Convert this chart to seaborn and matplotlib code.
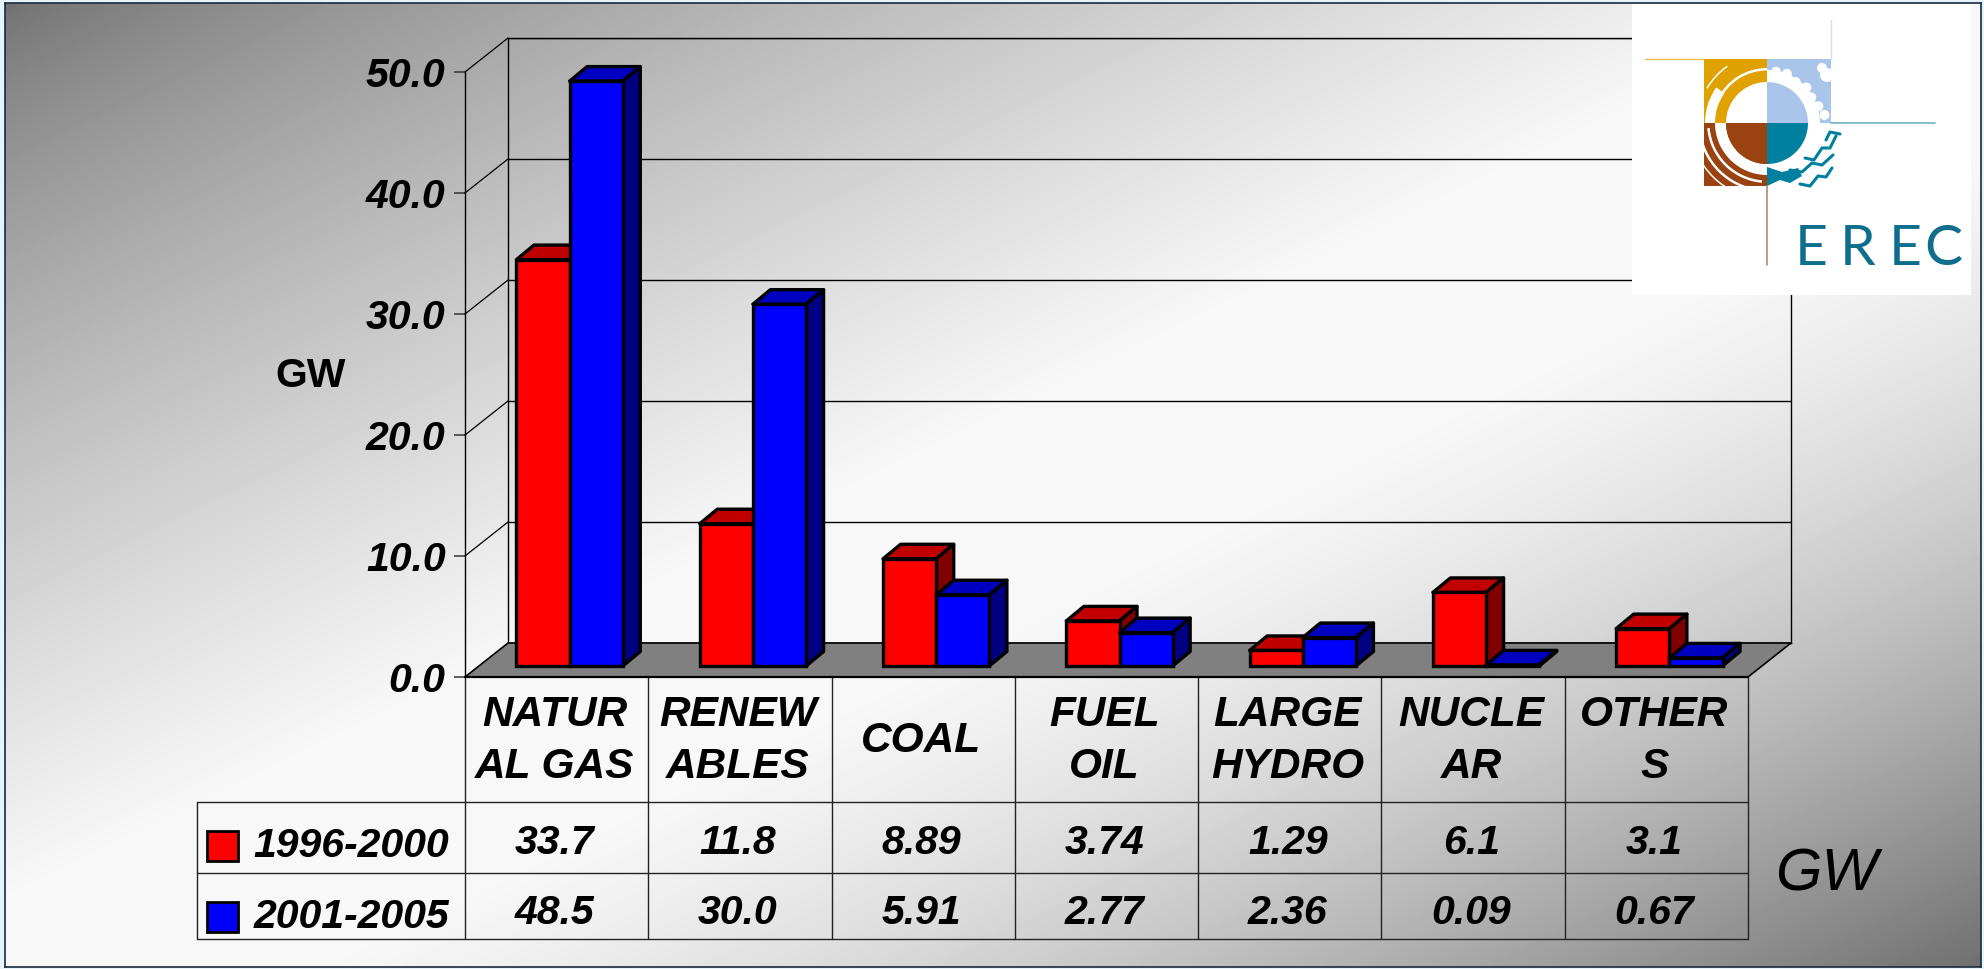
import matplotlib
matplotlib.use("Agg")
import matplotlib.pyplot as plt
from matplotlib.patches import Circle, Polygon, Rectangle, Wedge
import numpy as np
import pandas as pd
import seaborn as sns

categories = ["NATURAL GAS", "RENEWABLES", "COAL", "FUEL OIL", "LARGE HYDRO", "NUCLEAR", "OTHERS"]
category_labels = ["NATUR\nAL GAS", "RENEW\nABLES", "COAL", "FUEL\nOIL", "LARGE\nHYDRO", "NUCLE\nAR", "OTHER\nS"]
series_names = ["1996-2000", "2001-2005"]
values_1996 = [33.7, 11.8, 8.89, 3.74, 1.29, 6.1, 3.1]
values_2001 = [48.5, 30.0, 5.91, 2.77, 2.36, 0.09, 0.67]
labels_1996 = ["33.7", "11.8", "8.89", "3.74", "1.29", "6.1", "3.1"]
labels_2001 = ["48.5", "30.0", "5.91", "2.77", "2.36", "0.09", "0.67"]
y_ticks = [0, 10, 20, 30, 40, 50]

W, H = 1984, 969

sns.set_style("white")
plt.rcParams["font.family"] = ["Liberation Sans", "DejaVu Sans"]
plt.rcParams["font.weight"] = "bold"
plt.rcParams["font.style"] = "italic"
plt.rcParams["text.color"] = "black"

# 3D frame of the old chart, in pixels
FX0, FX1, FY0, FY50 = 465, 1748, 677, 72      # front plane
DX, DY = 43, -34                              # wall depth
BAR_OFF = (13, -11)                           # bars sit a bit back on the floor
BAR_DX, BAR_DY = 17.5, -14.5                  # bar depth
LINE = "#000000"


def px_axes(fig, x0, x1, y_bottom, y_top, **kw):
    return fig.add_axes([x0 / W, 1 - y_bottom / H, (x1 - x0) / W, (y_bottom - y_top) / H], **kw)


fig = plt.figure(figsize=(W / 100, H / 100), dpi=100, facecolor="#E6F3FB")

# slide background
bg = px_axes(fig, 5, 1981, 967, 3, zorder=0)
xx, yy = np.meshgrid(np.linspace(0, 1, 400), np.linspace(0, 1, 200))
t = xx + yy
shade = np.where(t < 1, 0.44 + 0.56 * t ** 0.75, 1 - 0.56 * np.abs(t - 1) ** 1.6)
bg.imshow(np.minimum(shade, 0.97), cmap="gray", vmin=0, vmax=1, aspect="auto", extent=(0, 1, 1, 0),
          interpolation="bilinear")
bg.set_xticks([])
bg.set_yticks([])
for sp in bg.spines.values():
    sp.set_linewidth(1.2)
    sp.set_color("#1a2a3a")

# back wall with its grid
back = px_axes(fig, FX0 + DX, FX1 + DX, FY0 + DY, FY50 + DY, zorder=1)
back.patch.set_alpha(0)
back.set_xlim(0, 1)
back.set_ylim(0, 50)
back.set_xticks([])
back.set_yticks(y_ticks)
back.set_yticklabels([])
back.tick_params(left=False)
back.grid(True, axis="y", color=LINE, linewidth=1.0)
for sp in back.spines.values():
    sp.set_linewidth(1.0)
    sp.set_color(LINE)

# front plane: value axis
front = px_axes(fig, FX0, FX1, FY0, FY50, zorder=2)
front.patch.set_alpha(0)
front.set_xlim(0, 1)
front.set_ylim(0, 50)
front.set_xticks([])
front.set_yticks(y_ticks)
front.set_yticklabels([f"{v:.1f}" for v in y_ticks], fontsize=29.5)
front.tick_params(axis="y", left=True, length=8, width=1.1, color="#333333", labelcolor="black", pad=6)
sns.despine(ax=front, right=True, top=True, bottom=True)
front.spines["left"].set_linewidth(1.0)
front.spines["left"].set_color(LINE)

# pixel overlay for floor, wall edges, table and logo
ov = fig.add_axes([0, 0, 1, 1], zorder=3)
ov.set_xlim(0, W)
ov.set_ylim(H, 0)
ov.axis("off")
ov.patch.set_alpha(0)

ov.add_patch(Polygon([(FX0, FY0), (FX1, FY0), (FX1 + DX, FY0 + DY), (FX0 + DX, FY0 + DY)],
                     closed=True, facecolor="#808080", edgecolor=LINE, linewidth=1.2))
for v in y_ticks[1:]:
    y = FY0 + (FY50 - FY0) * v / 50
    ov.plot([FX0, FX0 + DX], [y, y + DY], color=LINE, lw=0.9)

# table
col_w = (FX1 - FX0) / len(categories)
col_edges = [FX0 + i * col_w for i in range(len(categories) + 1)]
ROWS = [802, 873, 939]
TABLE_L = 197
for x in col_edges:
    ov.plot([x, x], [FY0, ROWS[-1]], color="#222222", lw=1.0)
ov.plot([FX0, FX1], [FY0, FY0], color=LINE, lw=1.6)
ov.plot([TABLE_L, TABLE_L], [ROWS[0], ROWS[-1]], color="#222222", lw=1.0)
for y in ROWS:
    ov.plot([TABLE_L, FX1], [y, y], color="#222222", lw=1.0)

for i, lab in enumerate(category_labels):
    cx = (col_edges[i] + col_edges[i + 1]) / 2 - 2
    ov.text(cx, 741, lab, ha="center", va="center", fontsize=30.5, linespacing=1.4)
    ov.text(cx, 843, labels_1996[i], ha="center", va="center", fontsize=29.5)
    ov.text(cx, 913, labels_2001[i], ha="center", va="center", fontsize=29.5)

for name, color, yc in zip(series_names, ["#FF0000", "#0000FF"], [846, 917]):
    ov.add_patch(Rectangle((207, yc - 15), 31, 30, facecolor=color, edgecolor=LINE, linewidth=2))
    ov.text(449, yc, name, ha="right", va="center", fontsize=29.5)

ov.text(311, 376, "GW", ha="center", va="center", fontsize=29.5, style="normal")
ov.text(1826, 875, "GW", ha="center", va="center", fontsize=43, weight="normal")

# logo
ov.add_patch(Rectangle((1632, 4), 339, 291, facecolor="white", edgecolor="none"))
cx, cy = 1767, 123
gold, sky, brown, teal = "#DFA200", "#A9C6EA", "#9A4210", "#00809F"
ov.plot([1645, 1704], [59, 59], color=gold, lw=1, alpha=0.7)
ov.plot([1831, 1831], [20, 59], color="#D5DEEC", lw=1)
ov.plot([1831, 1935], [123, 123], color="#6FB0BE", lw=1.2)
ov.plot([1767, 1767], [186, 265], color="#B08A78", lw=1.2)
ov.add_patch(Rectangle((1704, 59), 63, 64, facecolor=gold, edgecolor="none"))
ov.add_patch(Rectangle((1767, 59), 64, 64, facecolor=sky, edgecolor="none"))
ov.add_patch(Rectangle((1704, 123), 63, 63, facecolor=brown, edgecolor="none"))
# y axis is inverted, so the wedge angles run clockwise on screen
ov.add_patch(Wedge((cx, cy), 41, 180, 270, facecolor="white", edgecolor="none"))
ov.add_patch(Wedge((cx, cy), 62, 180, 215, width=10, facecolor="white", edgecolor="none"))
ov.add_patch(Wedge((cx, cy), 55, 205, 270, width=2.5, facecolor="white", edgecolor="none"))
ov.add_patch(Wedge((cx, cy), 70, 210, 235, width=1.5, facecolor="white", edgecolor="none"))
ov.add_patch(Wedge((cx, cy), 53, 270, 360, width=12, facecolor="white", edgecolor="none"))
for ang, r in zip(np.radians([280, 292, 305, 318, 330, 342, 352]), [52, 53, 50, 53, 51, 54, 58]):
    ov.add_patch(Circle((cx + r * np.cos(ang), cy + r * np.sin(ang)), 5, facecolor="white", edgecolor="none"))
ov.add_patch(Circle((1827, 75), 7, facecolor="white", edgecolor="none"))
ov.add_patch(Circle((1822, 68), 5, facecolor="white", edgecolor="none"))
ov.add_patch(Wedge((cx, cy), 52, 90, 180, width=11, facecolor="white", edgecolor="none"))
ov.add_patch(Wedge((cx, cy), 41, 90, 180, facecolor=brown, edgecolor="none"))
ov.add_patch(Wedge((cx, cy), 41, 0, 90, facecolor=teal, edgecolor="none"))
for r, w in ((60, 2.5), (69, 2.5), (77, 1.5)):
    ov.add_patch(Wedge((cx, cy), r, 95, 175, width=w, facecolor="white", edgecolor="none"))
# teal waves under the disc
ov.add_patch(Polygon([(1767, 167), (1782, 172), (1798, 168), (1802, 176), (1790, 183), (1780, 180), (1767, 186)],
                     closed=True, facecolor=teal, edgecolor="none"))
for pts in ([(1790, 170), (1802, 172), (1812, 163), (1822, 165), (1833, 155)],
            [(1805, 158), (1814, 160), (1822, 148), (1830, 148), (1836, 136)],
            [(1800, 184), (1810, 186), (1818, 176), (1826, 177), (1832, 168)],
            [(1826, 140), (1830, 132), (1840, 134)]):
    ov.plot(*zip(*pts), color=teal, lw=2.2)
for ch, x in zip("EREC", [1811, 1858, 1905, 1943]):
    ov.text(x, 265, ch, ha="center", va="baseline", fontsize=41, color="#0F6E8C",
            family="Lato", weight="normal", style="normal")

# bars, drawn by seaborn on an axes that sits slightly back on the floor
bars = px_axes(fig, FX0 + BAR_OFF[0], FX1 + BAR_OFF[0], FY0 + BAR_OFF[1], FY50 + BAR_OFF[1] + 2, zorder=4)
bars.patch.set_alpha(0)
long_df = pd.DataFrame({
    "category": categories * 2,
    "period": [series_names[0]] * len(categories) + [series_names[1]] * len(categories),
    "gw": values_1996 + values_2001,
})
sns.barplot(data=long_df, x="category", y="gw", hue="period", order=categories, hue_order=series_names,
            palette=["#FF0000", "#0000FF"], width=0.58, saturation=1, legend=False,
            edgecolor=LINE, linewidth=2.4, ax=bars, zorder=3)
bars.set_xlim(-0.5, len(categories) - 0.5)
bars.set_ylim(0, 50)
bars.axis("off")

# top and side faces for the 3D look
fig.canvas.draw()
faces = [("#C00000", "#800000"), ("#0000C0", "#000080")]
to_ov = lambda p: ov.transData.inverted().transform(bars.transData.transform(p))
for s, cont in enumerate(bars.containers):
    for rect in cont:
        rect.set_clip_on(False)
        rect.set_zorder(3 + 2 * s)
        x0, x1, h = rect.get_x(), rect.get_x() + rect.get_width(), rect.get_height()
        (ax0, ay0), (ax1, ay1) = to_ov((x0, h)), to_ov((x1, 0))
        top = [(ax0, ay0), (ax1, ay0), (ax1 + BAR_DX, ay0 + BAR_DY), (ax0 + BAR_DX, ay0 + BAR_DY)]
        side = [(ax1, ay0), (ax1, ay1), (ax1 + BAR_DX, ay1 + BAR_DY), (ax1 + BAR_DX, ay0 + BAR_DY)]
        for pts, col in ((top, faces[s][0]), (side, faces[s][1])):
            bars.add_patch(Polygon(pts, closed=True, transform=ov.transData, facecolor=col, edgecolor=LINE,
                                   linewidth=2.4, clip_on=False, zorder=2 + 2 * s, joinstyle="round"))

fig.savefig("out.png", dpi=100, facecolor=fig.get_facecolor())
